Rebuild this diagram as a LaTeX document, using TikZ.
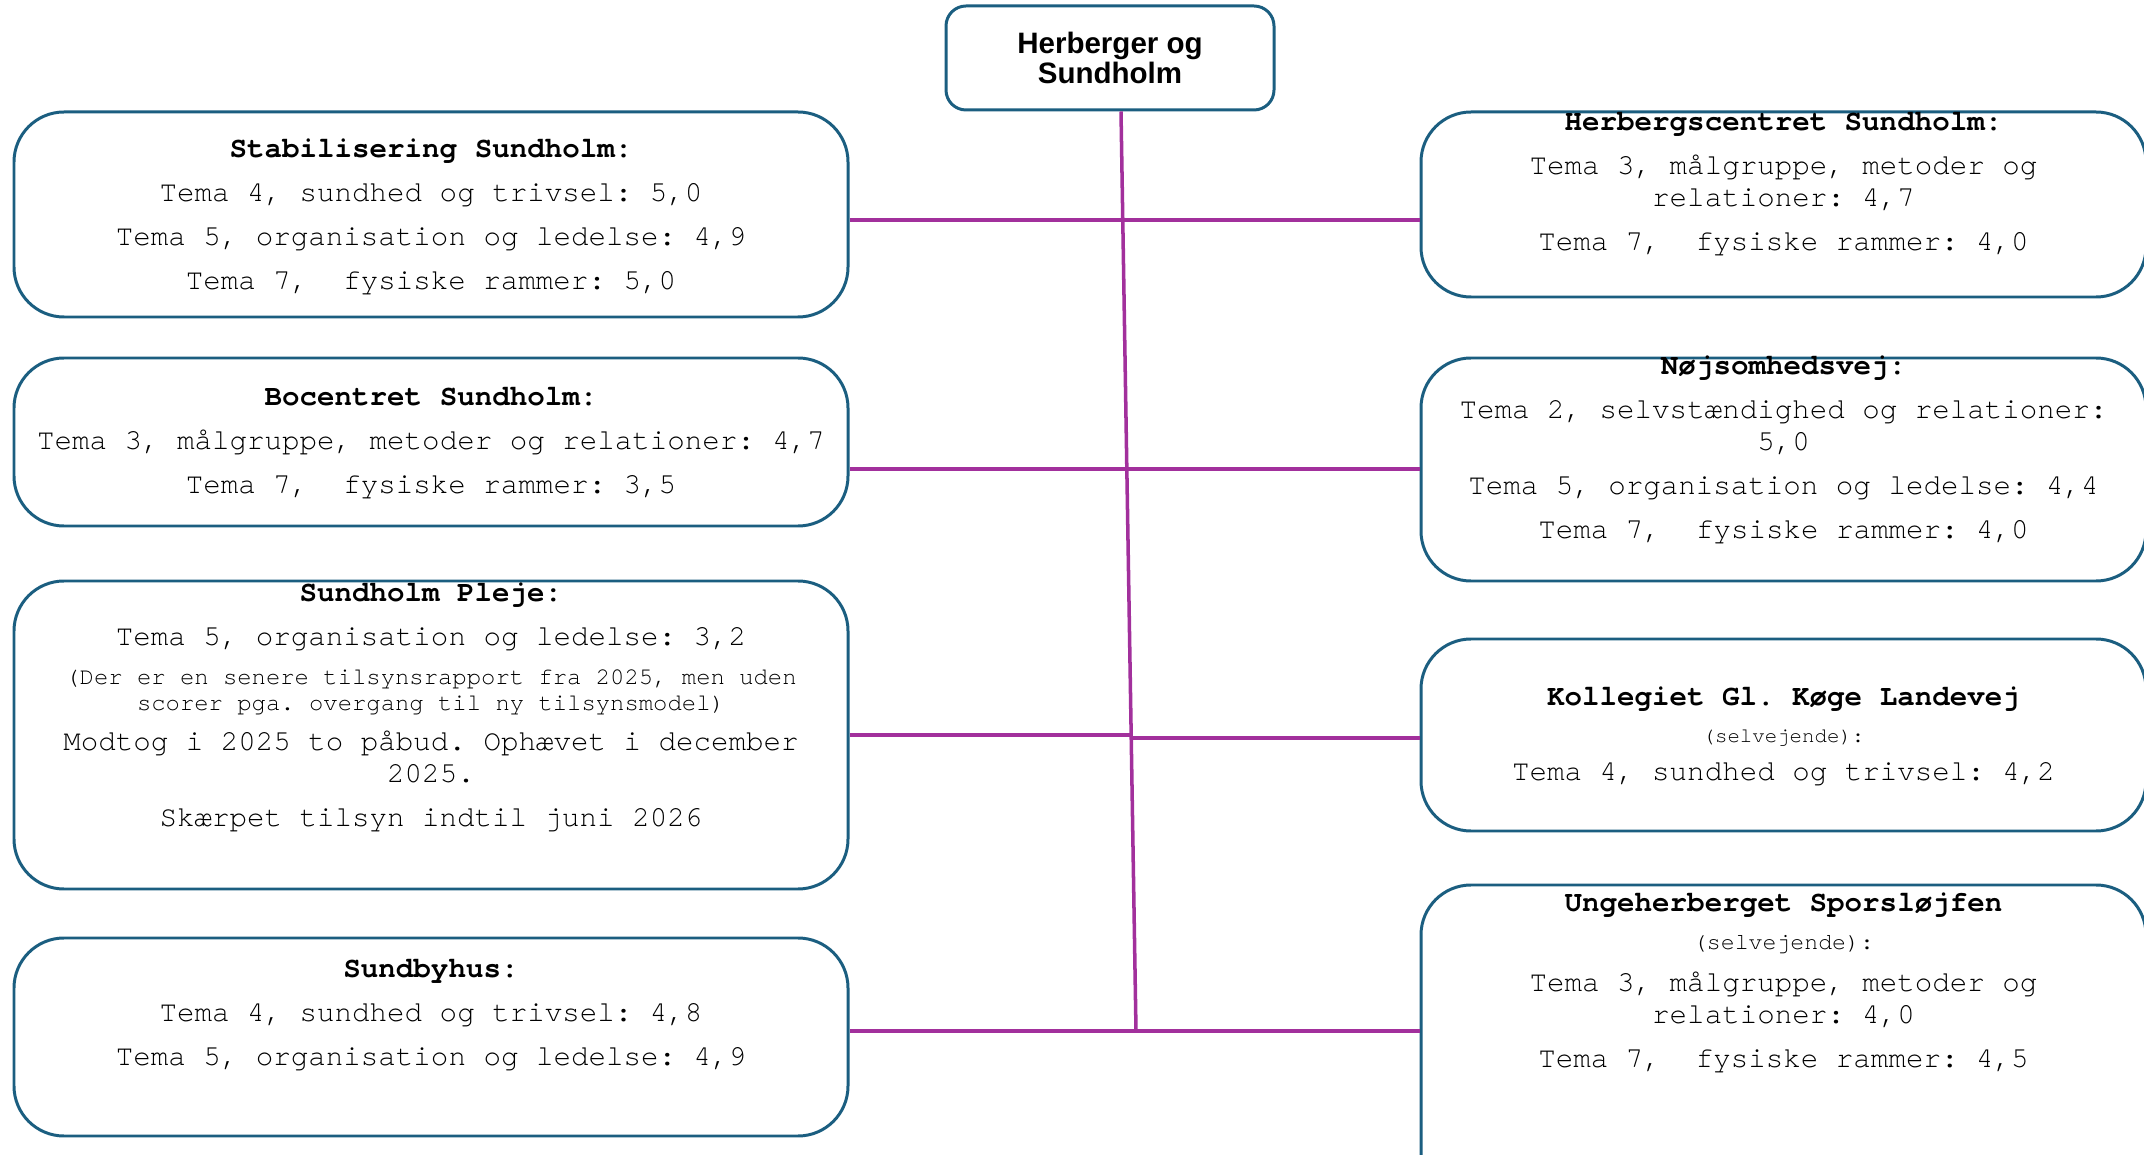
\documentclass[tikz,border=0pt]{standalone}
\usepackage{fontspec}
\setmainfont{Liberation Sans}
\setmonofont{TeX Gyre Cursor}
\usetikzlibrary{positioning}

\definecolor{boxblue}{HTML}{1B5E80}
\definecolor{linkpurple}{HTML}{A2309C}

\newcommand{\bodyfont}{\fontsize{8.3}{9.1}\selectfont\ttfamily}
\newcommand{\notefont}{\fontsize{6.8}{7.4}\selectfont}
\newcommand{\selvfont}{\fontsize{5.9}{6.5}\selectfont}

\tikzset{
    unit/.style={draw=boxblue, line width=0.85pt, rounded corners=0.5cm, fill=white, inner sep=0pt},
    leftunit/.style={unit, minimum width=8.34cm},
    rightunit/.style={unit, minimum width=7.25cm},
    info/.style={align=center, inner sep=0pt, font=\bodyfont},
    link/.style={draw=linkpurple, line width=1pt},
}

\begin{document}
\begin{tikzpicture}
    \useasboundingbox (0,0) rectangle (21.44,11.54);
    \clip (0,0) rectangle (21.44,11.54);

    % top
    \node[unit, minimum width=3.28cm, minimum height=1.04cm, rounded corners=0.2cm,
        align=center, font=\fontsize{8.4}{8.5}\selectfont\bfseries] (hs) at (11.10,10.96) {Herberger og\\Sundholm};

    % left column
    \node[leftunit, minimum height=2.05cm] (stab) at (4.31,9.395) {};
    \node[leftunit, minimum height=1.68cm] (boc) at (4.31,7.12) {};
    \node[leftunit, minimum height=3.08cm] (plej) at (4.31,4.19) {};
    \node[leftunit, minimum height=1.98cm] (sundby) at (4.31,1.17) {};

    % right column
    \node[rightunit, minimum height=1.85cm] (herbc) at (17.835,9.495) {};
    \node[rightunit, minimum height=2.23cm] (nojs) at (17.835,6.845) {};
    \node[rightunit, minimum height=1.92cm] (koll) at (17.835,4.19) {};
    \node[rightunit, minimum height=3.35cm] (ungeh) at (17.835,1.015) {};

    \node[info, below=0.275 of stab.north] (stabtxt) {{\bfseries Stabilisering Sundholm:}\\[3.4pt]
        Tema 4, sundhed og trivsel: 5,0\\[3.4pt]
        Tema 5, organisation og ledelse: 4,9\\[3.4pt]
        Tema 7,~ fysiske rammer: 5,0};
    \node[info, below=0.305 of boc.north] (boctxt) {{\bfseries Bocentret Sundholm:}\\[3.4pt]
        Tema 3, målgruppe, metoder og relationer: 4,7\\[3.4pt]
        Tema 7,~ fysiske rammer: 3,5};
    \node[info, below=0.025 of plej.north] (plejtxt) {{\bfseries Sundholm Pleje:}\\[3.4pt]
        Tema 5, organisation og ledelse: 3,2\\[2.0pt]
        {\notefont (Der er en senere tilsynsrapport fra 2025, men uden}\\[-1.7pt]
        {\notefont scorer pga. overgang til ny tilsynsmodel)}\\[2.3pt]
        Modtog i 2025 to påbud. Ophævet i december\\
        2025.\\[3.4pt]
        Skærpet tilsyn indtil juni 2026};
    \node[info, below=0.225 of sundby.north] (sundbytxt) {{\bfseries Sundbyhus:}\\[3.4pt]
        Tema 4, sundhed og trivsel: 4,8\\[3.4pt]
        Tema 5, organisation og ledelse: 4,9};

    \node[info, below=0.015 of herbc.north] (herbctxt) {{\bfseries Herbergscentret Sundholm:}\\[3.4pt]
        Tema 3, målgruppe, metoder og\\
        relationer: 4,7\\[3.4pt]
        Tema 7,~ fysiske rammer: 4,0};
    \node[info, anchor=north] (nojstxt) at ([yshift=0.015cm]nojs.north) {{\bfseries Nøjsomhedsvej:}\\[3.4pt]
        Tema 2, selvstændighed og relationer:\\
        5,0\\[3.4pt]
        Tema 5, organisation og ledelse: 4,4\\[3.4pt]
        Tema 7,~ fysiske rammer: 4,0};
    \node[info, below=0.485 of koll.north] (kolltxt) {{\bfseries Kollegiet Gl. Køge Landevej}\\[1.4pt]
        {\selvfont (selvejende):}\\[1.7pt]
        Tema 4, sundhed og trivsel: 4,2};
    \node[info, below=0.085 of ungeh.north] (ungehtxt) {{\bfseries Ungeherberget Sporsløjfen}\\[1.7pt]
        {\fontsize{6.6}{7}\selectfont (selvejende):}\\[2.9pt]
        Tema 3, målgruppe, metoder og\\
        relationer: 4,0\\[3.4pt]
        Tema 7,~ fysiske rammer: 4,5};

    % connectors
    \coordinate (j1) at (11.23,9.34);
    \coordinate (j2) at (11.27,6.85);
    \coordinate (j3a) at (11.32,4.19);
    \coordinate (j3b) at (11.33,4.16);
    \coordinate (j4) at (11.36,1.23);

    \draw[link] ([xshift=0.11cm]hs.south) -- (j4);
    \draw[link] (stab.east |- j1) -- (herbc.west |- j1);
    \draw[link] (boc.east |- j2) -- (nojs.west |- j2);
    \draw[link] (plej.east |- j3a) -- (j3a);
    \draw[link] (j3b) -- (koll.west |- j3b);
    \draw[link] (sundby.east |- j4) -- (ungeh.west |- j4);
\end{tikzpicture}
\end{document}
